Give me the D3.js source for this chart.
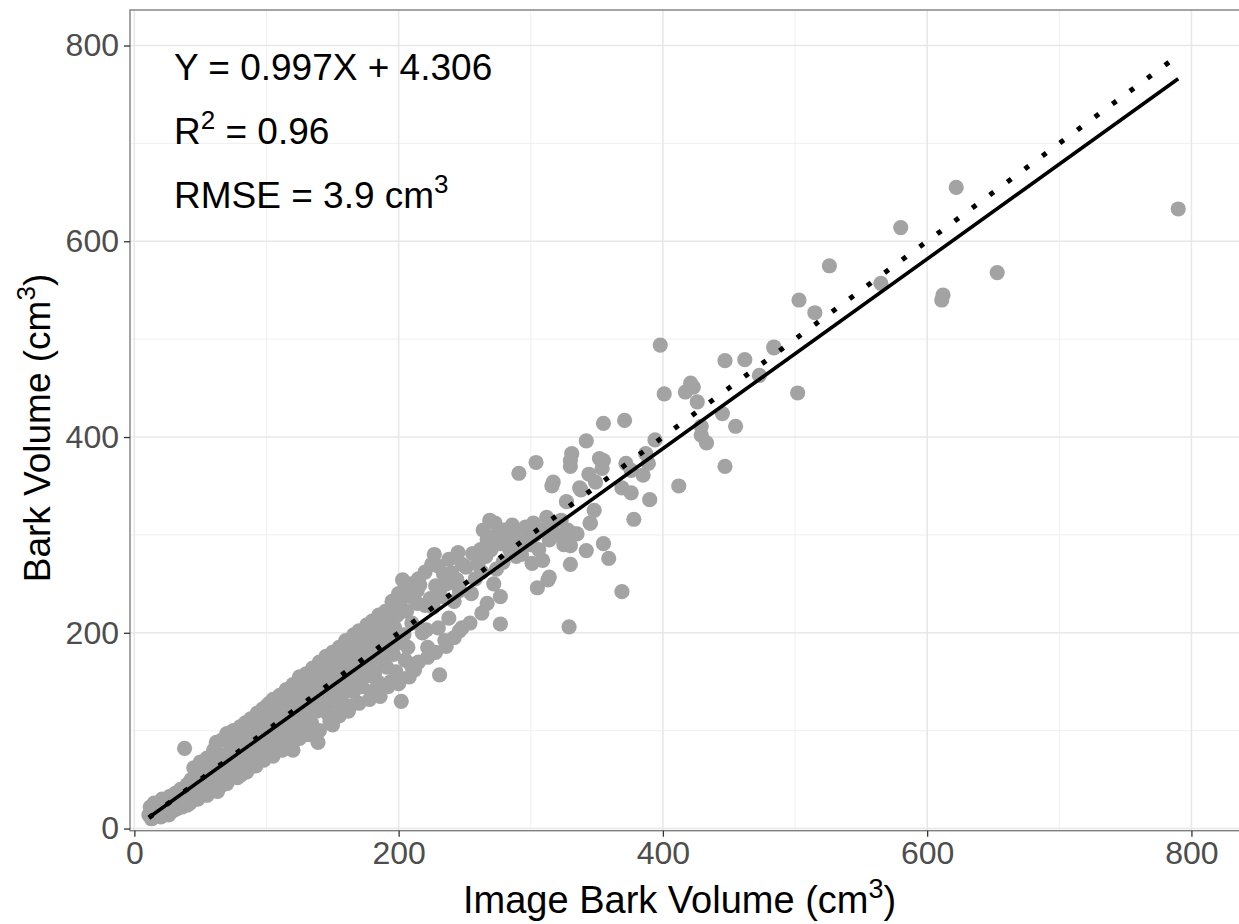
<!DOCTYPE html>
<html>
<head>
<meta charset="utf-8">
<script src="https://cdn.jsdelivr.net/npm/d3@7"></script>
<style>
  body { margin: 0; background: #fff; }
  svg { display: block; font-family: "Liberation Sans", Arial, sans-serif; }
</style>
</head>
<body>
<svg id="chart" width="1239" height="924"></svg>
<script>
// ---- data ----
const majorTicks = [0, 200, 400, 600, 800];
const minorTicks = [100, 300, 500, 700];

// dense band of small trees, x < 250
const denseBand = [
  [11,14],[12,22],[13,10],[14,18],[15,26],[16,13],[17,20],[18,15],[19,24],[20,12],
  [21,30],[22,19],[23,16],[24,27],[25,21],[26,14],[27,33],[28,24],[29,18],[30,28],
  [31,36],[32,20],[33,30],[34,25],[35,40],[36,22],[37,31],[38,82],[39,28],[40,45],
  [41,35],[42,26],[43,50],[44,38],[45,30],[46,42],[47,55],[48,34],[49,46],[50,40],
  [51,60],[52,38],[53,48],[54,44],[55,65],[56,36],[57,52],[58,47],[59,70],[60,42],
  [61,58],[62,50],[63,38],[64,66],[65,55],[66,62],[67,45],[68,75],[69,58],[70,97],
  [71,62],[72,52],[73,80],[74,68],[75,58],[76,85],[77,70],[78,64],[79,90],[80,74],
  [81,55],[82,82],[83,92],[84,70],[85,100],[86,78],[87,62],[88,88],[89,105],[90,80],
  [91,111],[92,86],[93,72],[94,98],[95,90],[96,108],[97,84],[98,115],[99,95],[100,78],
  [101,104],[102,128],[103,92],[104,110],[105,86],[106,120],[107,100],[108,96],[109,125],[110,106],
  [111,90],[112,116],[113,130],[114,104],[115,120],[116,98],[117,135],[118,112],[119,106],[120,80],
  [121,126],[122,140],[123,115],[124,100],[125,155],[126,122],[127,132],[128,110],[129,145],[130,118],
  [131,138],[132,126],[133,150],[134,108],[135,142],[136,130],[137,160],[138,120],[139,88],[140,148],
  [141,136],[142,165],[143,125],[144,155],[145,140],[146,118],[147,170],[148,146],[149,132],[150,106],
  [151,158],[152,142],[153,175],[154,128],[155,165],[156,150],[157,180],[158,138],[159,160],[160,189],
  [161,148],[162,170],[163,125],[164,182],[165,155],[166,140],[167,176],[168,162],[169,192],[170,150],
  [171,180],[172,145],[173,196],[174,165],[175,199],[176,156],[177,186],[178,170],[179,140],[180,195],
  [181,176],[182,160],[183,205],[184,150],[185,188],[186,135],[187,200],[188,172],[189,210],[190,182],
  [191,165],[192,215],[193,192],[194,150],[195,225],[196,178],[197,205],[198,160],[199,218],[200,190],
  [201,232],[202,130],[203,254],[204,198],[205,172],[206,222],[207,185],[208,238],[209,168],[210,210],
  [212,162],[214,243],[216,249],[218,200],[220,228],[222,185],[224,235],[226,226],[228,248],[230,205],
  [231,157],[232,237],[234,260],[236,250],[238,215],[240,261],[242,232],[244,254],[246,243],[248,270],
  [162,189],[173,196],[178,199],[188,204],[196,225],[200,230],[209,237],[212,244],[214,230],
  [221,203],[226,227],[231,237],[236,186],[236,250],[240,261],[244,254],[246,244],[246,202],[227,280]
];

// upper and lower edges of the band
const bandUpper = [
  [45,62],[50,68],[55,72],[60,80],[62,88],[66,90],[72,95],[75,100],[80,104],[84,108],
  [88,112],[93,118],[97,122],[100,125],[105,132],[110,136],[115,142],[120,147],[124,150],[130,158],
  [135,164],[140,170],[145,176],[150,180],[155,185],[160,192],[166,198],[170,202],[176,208],[180,212],
  [185,218],[190,222],[195,232],[200,240],[205,245],[210,250],[215,255],[220,262],[225,270],[230,268],
  [238,275],[245,282]
];
const bandLower = [
  [40,24],[48,30],[55,34],[62,40],[70,46],[78,52],[85,58],[92,64],[98,70],[105,74],
  [112,80],[118,86],[125,92],[132,96],[140,100],[148,110],[155,115],[162,120],[170,128],[178,132],
  [185,140],[192,145],[200,148],[208,155],[215,170],[222,175],[228,180],[235,192],[242,195],[248,205]
];

// medium trees, 250 - 420
const midPoints = [
  [251,267],[254,210],[256,281],[262,285],[263,220],[264,305],[267,295],[267,230],[269,315],[272,298],
  [272,250],[273,312],[277,291],[277,237],[277,209],[280,305],[282,298],[283,293],[287,303],[289,278],
  [290,290],[291,363],[292,291],[299,298],[301,271],[302,312],[304,374],[305,246],[309,274],[312,318],
  [313,254],[314,257],[316,350],[317,354],[317,312],[323,315],[327,303],[327,334],[328,305],[329,206],
  [330,270],[330,289],[330,370],[330,376],[331,383],[333,301],[335,301],[337,348],[338,346],[342,396],
  [342,284],[344,362],[345,312],[345,312],[348,325],[349,354],[352,378],[354,368],[355,376],[355,291],
  [355,414],[359,276],[369,242],[369,348],[371,417],[372,373],[376,366],[376,343],[378,316],[385,361],
  [387,383],[389,373],[390,336],[394,397],[398,494],[401,444],[412,350],[417,446],[421,455],[423,451],
  [255,240],[258,255],[260,270],[263,262],[266,278],[270,285],[274,265],[276,300],[279,272],[284,285],
  [286,310],[288,300],[293,280],[296,308],[300,290],[303,300],[306,285],[310,305],[314,295],[320,300],
  [325,290]
];

// large trees, > 420
const largePoints = [
  [426,436],[429,411],[429,402],[433,394],[445,424],[447,478],[447,370],[455,411],[462,479],[473,463],
  [484,491],[484,492],[502,445],[503,540],[515,527],[526,575],[565,557],[580,614],[611,540],[612,545],
  [622,655],[653,568],[790,633]
];

// fitted regression (solid) and 1:1 reference (dotted)
const fitLine = [[11, 11.3], [790, 766]];
const oneToOne = [[11, 11], [790, 790]];

const annotations = [
  { x: 30, y: 765, parts: [["Y = 0.997X + 4.306", false]] },
  { x: 30, y: 699, parts: [["R", false], ["2", true], [" = 0.96", false]] },
  { x: 30, y: 634, parts: [["RMSE = 3.9 cm", false], ["3", true]] }
];

// ---- layout ----
const svg = d3.select('#chart');
const W = 1239, H = 924;
const panel = { left: 130, top: 10, right: 1239, bottom: 830.7 };

const x = d3.scaleLinear().domain([-3.3, 836]).range([panel.left, panel.right]);
const y = d3.scaleLinear().domain([-2.2, 836.3]).range([panel.bottom, panel.top]);

svg.append('rect').attr('width', W).attr('height', H).attr('fill', '#fff');

// grid
const grid = svg.append('g');
grid.selectAll('.vminor').data(minorTicks).join('line')
    .attr('x1', d => x(d)).attr('x2', d => x(d))
    .attr('y1', panel.top).attr('y2', panel.bottom)
    .attr('stroke', '#f0f0f0').attr('stroke-width', 1);
grid.selectAll('.hminor').data(minorTicks).join('line')
    .attr('y1', d => y(d)).attr('y2', d => y(d))
    .attr('x1', panel.left).attr('x2', panel.right)
    .attr('stroke', '#f0f0f0').attr('stroke-width', 1);
grid.selectAll('.vmajor').data(majorTicks).join('line')
    .attr('x1', d => x(d)).attr('x2', d => x(d))
    .attr('y1', panel.top).attr('y2', panel.bottom)
    .attr('stroke', '#e8e8e8').attr('stroke-width', 1.6);
grid.selectAll('.hmajor').data(majorTicks).join('line')
    .attr('y1', d => y(d)).attr('y2', d => y(d))
    .attr('x1', panel.left).attr('x2', panel.right)
    .attr('stroke', '#e8e8e8').attr('stroke-width', 1.6);

// points
const allPoints = denseBand.concat(bandUpper, bandLower, midPoints, largePoints);
svg.append('g').selectAll('circle').data(allPoints).join('circle')
    .attr('cx', d => x(d[0]))
    .attr('cy', d => y(d[1]))
    .attr('r', 7.6)
    .attr('fill', '#a3a3a3');

const line = d3.line().x(d => x(d[0])).y(d => y(d[1]));

svg.append('path').attr('d', line(oneToOne))
    .attr('fill', 'none').attr('stroke', '#000')
    .attr('stroke-width', 5).attr('stroke-dasharray', '5 16.8');

svg.append('path').attr('d', line(fitLine))
    .attr('fill', 'none').attr('stroke', '#000')
    .attr('stroke-width', 3.6);

// panel border
svg.append('rect')
    .attr('x', panel.left).attr('y', panel.top)
    .attr('width', panel.right - panel.left + 10).attr('height', panel.bottom - panel.top)
    .attr('fill', 'none').attr('stroke', '#7f7f7f').attr('stroke-width', 1.4);

// axes
const xAxis = svg.append('g')
    .attr('transform', `translate(0,${panel.bottom})`)
    .call(d3.axisBottom(x).tickValues(majorTicks).tickSize(6).tickPadding(5));
const yAxis = svg.append('g')
    .attr('transform', `translate(${panel.left},0)`)
    .call(d3.axisLeft(y).tickValues(majorTicks).tickSize(6).tickPadding(5));
[xAxis, yAxis].forEach(a => {
  a.select('.domain').remove();
  a.selectAll('.tick line').attr('stroke', '#333').attr('stroke-width', 1.3);
  a.selectAll('.tick text').attr('fill', '#4d4d4d')
      .style('font-size', '32px').style('font-family', '"Liberation Sans", Arial, sans-serif');
});
xAxis.selectAll('.tick text').attr('dy', '0.71em');

// axis titles
const xt = svg.append('text')
    .attr('x', 463).attr('y', 913)
    .attr('text-anchor', 'start').style('font-size', '38px').attr('fill', '#000');
xt.append('tspan').text('Image Bark Volume (cm');
xt.append('tspan').text('3').style('font-size', '27px').attr('dy', -15);
xt.append('tspan').text(')').attr('dy', 15);

const yt = svg.append('text')
    .attr('transform', `translate(50,428) rotate(-90)`)
    .attr('text-anchor', 'middle').style('font-size', '37px').attr('fill', '#000');
yt.append('tspan').text('Bark Volume (cm');
yt.append('tspan').text('3').style('font-size', '26px').attr('dy', -15);
yt.append('tspan').text(')').attr('dy', 15);

// annotation text
annotations.forEach(a => {
  const t = svg.append('text')
      .attr('x', x(a.x)).attr('y', y(a.y))
      .style('font-size', '37px').attr('fill', '#000');
  let raised = false;
  a.parts.forEach(([s, sup]) => {
    const ts = t.append('tspan').text(s);
    if (sup) { ts.style('font-size', '26px').attr('dy', -15); raised = true; }
    else if (raised) { ts.attr('dy', 15); raised = false; }
  });
});
</script>
</body>
</html>
